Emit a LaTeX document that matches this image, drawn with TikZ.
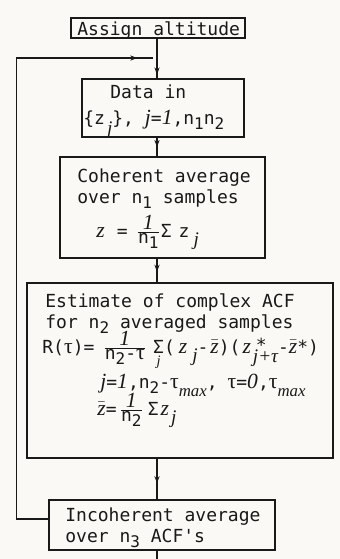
\documentclass[tikz,border=0pt]{standalone}
\usepackage{amsmath}
\usepackage{fontspec}
\newfontfamily\tw{DejaVu Sans Mono}
\newfontfamily\vfont{Liberation Serif}[Scale=1.2]
\usetikzlibrary{arrows.meta,decorations.markings,calc}
\definecolor{bgcol}{RGB}{250,249,245}
\definecolor{ink}{RGB}{25,25,25}
\newcommand{\zz}{\text{\vfont\itshape z}}
\newcommand{\tauu}{\text{\vfont τ}}
\newcommand{\vit}[1]{\text{\vfont\itshape #1}}
\newcommand{\jsig}{\mathop{\text{\tw Σ}}\limits_{\text{\vfont\itshape j}}}
\newcommand{\lowsub}[2][4pt]{\raisebox{-#1}{\fontsize{8}{8}\selectfont\vfont\itshape #2}}
\newcommand{\maxsub}{\raisebox{-4pt}{\fontsize{7}{7}\selectfont\vfont\itshape max}}
\newcommand{\dsub}[1]{\raisebox{-2.5pt}{\fontsize{8}{8}\selectfont\tw #1}}
\newcommand{\tfr}[2]{\frac{\text{\fontsize{9}{9}\selectfont #1}}{\text{\fontsize{9}{9}\selectfont #2}}}
\begin{document}
\begin{tikzpicture}[x=0.5pt,y=-0.5pt,
  box/.style={draw=ink, line width=0.55pt, rectangle, inner sep=0pt},
  lbl/.style={anchor=base west, inner sep=0pt, text=ink, font=\tw\fontsize{9}{10.5}\selectfont},
  flow/.style={draw=ink, line width=0.55pt, postaction={decorate},
    decoration={markings, mark=at position #1 with {\arrow{Stealth[length=3.5pt,width=2.6pt]}}}},
  flow/.default=0.5,
  plain/.style={draw=ink, line width=0.55pt}
]
\fill[bgcol] (0,0) rectangle (340,559);
\useasboundingbox (0,0) rectangle (340,559);

% boxes
\node[box, minimum width=87pt, minimum height=10pt] (assign) at (158,28) {};
\node[box, minimum width=81pt, minimum height=29pt] (data) at (163,108) {};
\node[box, minimum width=102.5pt, minimum height=50.5pt] (coh) at (162.5,207.5) {};
\node[box, minimum width=153pt, minimum height=87.5pt] (acf) at (180,370.5) {};
\node[box, minimum width=113pt, minimum height=25pt] (inc) at (162,525) {};

% texts
\node[lbl] (t1) at (77,35) {Assign altitude};
\node[lbl] (t2) at (110,98) {Data in};
\node[lbl] (t3) at (83,124) {\{z\hspace{1pt}\lowsub[5pt]{j}\}, \vit{j}=\vit{1},n\dsub{1}n\dsub{2}};
\node[lbl] (t4) at (77,182) {Coherent average};
\node[lbl] (t5) at (77,203) {over n\dsub{1} samples};
\node[lbl] (t6) at (96,237) {\vit{z}\hspace{6pt}=\hspace{4pt}$\tfr{\vit{1}}{n\dsub{1}}$Σ\hspace{3.5pt}z\hspace{2pt}\lowsub{j}};
\node[lbl] (t7) at (45,307) {Estimate of complex ACF};
\node[lbl] (t8) at (45,328) {for n\dsub{2} averaged samples};
\node[lbl] (t9) at (42,353) {R(\tauu)=\hspace{4pt}$\tfr{\vit{1}}{n\dsub{2}-\tauu}$\hspace{3pt}$\jsig$(\hspace{2pt}\vit{z}\hspace{2.5pt}\lowsub{j}-\hspace{1pt}$\bar{\zz}$)(\hspace{1pt}\vit{z}\hspace{1pt}\rlap{\hspace{1.5pt}\raisebox{1pt}{*}}\lowsub[4.5pt]{j+τ}-$\bar{\zz}$*)};
\node[lbl] (t10) at (100,388) {\vit{j}=\vit{1},n\dsub{2}-\tauu\maxsub,\hspace{5pt}\tauu=\vit{0},\tauu\maxsub};
\node[lbl] (t11) at (97,415) {$\bar{\zz}$=\hspace{1pt}$\tfr{\vit{1}}{n\dsub{2}}$\hspace{2pt}Σ\hspace{1pt}\vit{z}\hspace{1pt}\lowsub{j}};
\node[lbl] (t12) at (65,521) {Incoherent average};
\node[lbl] (t13) at (65,542) {over n\dsub{3} ACF's};

% connectors
\coordinate (spine) at (157,0);
\coordinate (exit) at (157,559);
\coordinate (loopend) at (153,58);
\draw[flow=0.9] (assign.south -| spine) -- (data.north -| spine);
\draw[flow=0.5] (data.south -| spine) -- (coh.north -| spine);
\draw[flow=0.55] (coh.south -| spine) -- (acf.north -| spine);
\draw[flow=0.6] (acf.south -| spine) -- (inc.north -| spine);
\draw[plain] (inc.south -| spine) -- (exit);
\draw[flow=0.975] ([yshift=3pt]inc.west) -- ++(-32,0) |- (loopend);
\end{tikzpicture}
\end{document}
